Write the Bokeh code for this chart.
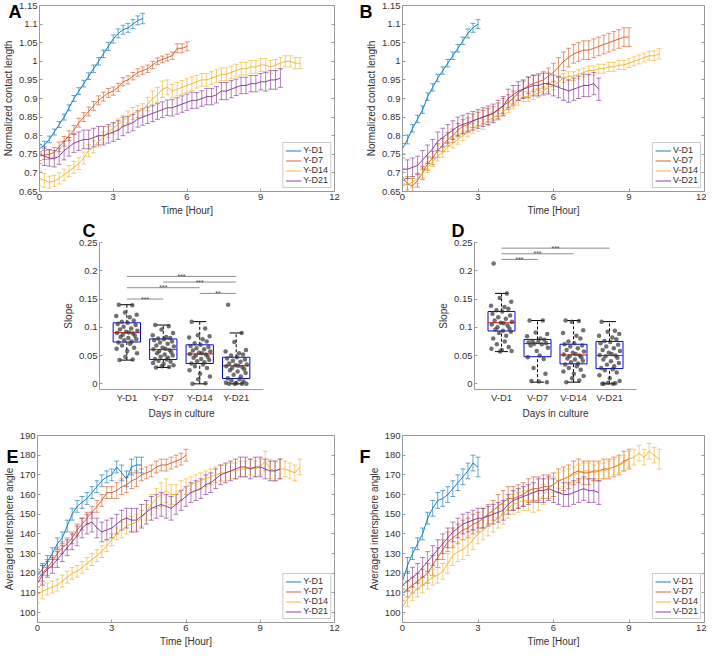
import math
import numpy as np
from bokeh.plotting import figure
from bokeh.layouts import column, row
from bokeh.models import (ColumnDataSource, Whisker, TeeHead, Legend, LegendItem,
                          FixedTicker, Range1d, LinearAxis)
from bokeh.embed import file_html
from bokeh.resources import INLINE
from bokeh.core.properties import value

# ---------------- data ----------------
STEP_H = 0.2  # sampling interval of the time series (hours)

# Panel A: normalized contact length, Y groups
A_D1 = [0.765, 0.775, 0.79, 0.81, 0.83, 0.85, 0.875, 0.9, 0.92, 0.94, 0.96, 0.98, 1.0, 1.02, 1.04, 1.06,
        1.075, 1.085, 1.09, 1.1, 1.11, 1.115]
A_D1_E = [0.012, 0.01, 0.009, 0.008, 0.008, 0.008, 0.008, 0.008, 0.009, 0.009, 0.009, 0.01, 0.01, 0.01,
          0.011, 0.011, 0.012, 0.012, 0.012, 0.012, 0.012, 0.014]
A_D7 = [0.745, 0.748, 0.75, 0.755, 0.77, 0.785, 0.8, 0.815, 0.835, 0.85, 0.865, 0.88, 0.895, 0.905, 0.915,
        0.92, 0.93, 0.945, 0.95, 0.96, 0.97, 0.975, 0.98, 0.99, 1.0, 1.005, 1.01, 1.015, 1.035, 1.035, 1.04]
A_D7_E = [0.012, 0.012, 0.013, 0.013, 0.013, 0.013, 0.013, 0.012, 0.012, 0.012, 0.012, 0.012, 0.012, 0.012,
          0.012, 0.011, 0.011, 0.011, 0.011, 0.01, 0.01, 0.01, 0.01, 0.01, 0.009, 0.009, 0.009, 0.01, 0.012,
          0.012, 0.012]
A_D14 = [0.685, 0.68, 0.675, 0.678, 0.685, 0.695, 0.705, 0.715, 0.725, 0.74,
         0.76, 0.77, 0.785, 0.795, 0.81, 0.82, 0.83, 0.84, 0.85, 0.86,
         0.865, 0.87, 0.885, 0.9, 0.91, 0.925, 0.93, 0.92, 0.925, 0.93,
         0.935, 0.94, 0.945, 0.95, 0.95, 0.955, 0.96, 0.965, 0.965, 0.97,
         0.975, 0.98, 0.98, 0.985, 0.985, 0.99, 0.99, 0.985, 0.99, 0.995,
         1.0, 1.0, 0.995, 0.995]
A_D14_E = [0.02, 0.018, 0.016, 0.015, 0.015, 0.015, 0.015, 0.016, 0.016, 0.016,
           0.016, 0.016, 0.015, 0.015, 0.015, 0.015, 0.015, 0.015, 0.016, 0.016,
           0.016, 0.016, 0.018, 0.02, 0.02, 0.022, 0.02, 0.018, 0.018, 0.018,
           0.018, 0.018, 0.017, 0.017, 0.017, 0.017, 0.017, 0.017, 0.017, 0.017,
           0.017, 0.017, 0.017, 0.017, 0.017, 0.017, 0.017, 0.017, 0.015, 0.015,
           0.015, 0.015, 0.015, 0.015]
A_D21 = [0.75, 0.745, 0.74, 0.738, 0.745, 0.76, 0.77, 0.78, 0.785, 0.79,
         0.79, 0.795, 0.8, 0.8, 0.805, 0.81, 0.815, 0.825, 0.83, 0.835,
         0.845, 0.85, 0.855, 0.86, 0.865, 0.87, 0.875, 0.875, 0.88, 0.885,
         0.89, 0.895, 0.895, 0.9, 0.905, 0.905, 0.91, 0.92, 0.92, 0.925,
         0.93, 0.935, 0.935, 0.94, 0.94, 0.945, 0.945, 0.95, 0.95, 0.955]
A_D21_E = [0.025, 0.025, 0.022, 0.022, 0.022, 0.025, 0.025, 0.025, 0.025, 0.025,
           0.025, 0.025, 0.025, 0.025, 0.025, 0.025, 0.025, 0.025, 0.022, 0.022,
           0.022, 0.022, 0.022, 0.022, 0.021, 0.021, 0.021, 0.022, 0.022, 0.022,
           0.022, 0.022, 0.021, 0.021, 0.022, 0.022, 0.022, 0.023, 0.023, 0.023,
           0.022, 0.022, 0.022, 0.022, 0.022, 0.022, 0.025, 0.025, 0.025, 0.025]

# Panel B: normalized contact length, V groups
B_D1 = [0.765, 0.79, 0.82, 0.845, 0.87, 0.905, 0.93, 0.955, 0.975, 0.995, 1.015, 1.035, 1.055, 1.075, 1.09, 1.1]
B_D1_E = [0.014, 0.012, 0.01, 0.01, 0.01, 0.01, 0.01, 0.01, 0.01, 0.01, 0.01, 0.01, 0.01, 0.012, 0.012, 0.012]
B_D7 = [0.69, 0.67, 0.665, 0.68, 0.7, 0.725, 0.74, 0.76, 0.775, 0.79,
        0.8, 0.815, 0.825, 0.83, 0.84, 0.845, 0.85, 0.855, 0.86, 0.87,
        0.88, 0.89, 0.9, 0.915, 0.925, 0.935, 0.94, 0.945, 0.95, 0.96,
        0.97, 0.985, 1.0, 1.01, 1.02, 1.025, 1.03, 1.03, 1.035, 1.04,
        1.045, 1.05, 1.055, 1.06, 1.065, 1.065]
B_D7_E = [0.02, 0.02, 0.02, 0.018, 0.018, 0.018, 0.018, 0.018, 0.018, 0.018,
          0.018, 0.018, 0.018, 0.018, 0.018, 0.018, 0.018, 0.018, 0.018, 0.018,
          0.02, 0.02, 0.02, 0.02, 0.022, 0.022, 0.022, 0.022, 0.022, 0.022,
          0.025, 0.025, 0.025, 0.025, 0.025, 0.025, 0.025, 0.025, 0.025, 0.025,
          0.025, 0.025, 0.025, 0.025, 0.025, 0.025]
B_D14 = [0.665, 0.67, 0.675, 0.685, 0.7, 0.715, 0.73, 0.745, 0.755, 0.77,
         0.78, 0.79, 0.8, 0.81, 0.82, 0.825, 0.83, 0.84, 0.85, 0.855,
         0.865, 0.875, 0.885, 0.895, 0.905, 0.905, 0.91, 0.915, 0.92, 0.93,
         0.935, 0.945, 0.955, 0.96, 0.96, 0.965, 0.97, 0.975, 0.975, 0.98,
         0.98, 0.985, 0.985, 0.99, 0.99, 0.995, 1.0, 1.005, 1.01, 1.015,
         1.015, 1.02]
B_D14_E = [0.015, 0.015, 0.014, 0.014, 0.014, 0.014, 0.013, 0.013, 0.013, 0.013,
           0.013, 0.013, 0.013, 0.013, 0.013, 0.013, 0.013, 0.013, 0.013, 0.013,
           0.013, 0.013, 0.013, 0.013, 0.013, 0.013, 0.013, 0.012, 0.012, 0.012,
           0.012, 0.012, 0.012, 0.012, 0.012, 0.012, 0.012, 0.012, 0.012, 0.012,
           0.012, 0.012, 0.012, 0.012, 0.012, 0.012, 0.012, 0.012, 0.012, 0.012,
           0.013, 0.014]
B_D21 = [0.71, 0.71, 0.715, 0.72, 0.735, 0.75, 0.765, 0.785, 0.795, 0.805,
         0.815, 0.825, 0.83, 0.835, 0.84, 0.845, 0.85, 0.855, 0.86, 0.87,
         0.88, 0.9, 0.91, 0.92, 0.925, 0.93, 0.935, 0.935, 0.94, 0.94,
         0.935, 0.93, 0.925, 0.92, 0.925, 0.93, 0.935, 0.935, 0.94, 0.925]
B_D21_E = [0.03, 0.025, 0.025, 0.025, 0.025, 0.025, 0.025, 0.025, 0.025, 0.025,
           0.025, 0.025, 0.025, 0.025, 0.025, 0.025, 0.025, 0.025, 0.025, 0.025,
           0.025, 0.025, 0.025, 0.025, 0.025, 0.028, 0.028, 0.028, 0.028, 0.028,
           0.028, 0.028, 0.03, 0.03, 0.03, 0.03, 0.03, 0.03, 0.03, 0.03]

# Panel E: averaged intersphere angle, Y groups
E_D1 = [119, 122, 126, 130, 135, 138, 144, 150, 154, 156, 158, 161, 164, 167, 169, 170, 174, 171, 168, 174,
        175, 175]
E_D1_E = [3, 3, 3, 3, 3, 3, 3, 3, 3, 3, 3, 3, 3, 3, 3, 3, 3, 4, 4, 4, 4, 4]
E_D7 = [117, 120, 123, 126, 130, 133, 135, 138, 142, 145,
        148, 151, 154, 157, 161, 161, 162, 164, 165, 167,
        168, 170, 171, 172, 174, 175, 175, 176, 177, 178, 180]
E_D7_E = [4, 4, 4, 3, 3, 3, 3, 3, 3, 3, 3, 3, 3, 3, 3, 3, 4, 4, 4, 4, 4, 3, 3, 3, 3, 3, 3, 3, 3, 3, 3]
E_D14 = [109, 111, 112, 113, 114, 116, 118, 120, 121, 123,
         125, 127, 129, 131, 134, 137, 140, 142, 144, 145,
         146, 148, 151, 155, 158, 160, 162, 160, 160, 162,
         164, 165, 166, 167, 168, 169, 170, 171, 171, 172,
         172, 173, 173, 174, 173, 174, 177, 173, 172, 173,
         173, 172, 171, 174]
E_D14_E = [4, 4, 3, 3, 3, 3, 3, 3, 3, 3,
           3, 3, 3, 3, 3, 3, 3, 4, 4, 4,
           4, 4, 4, 5, 5, 6, 6, 5, 5, 5,
           4, 4, 4, 4, 4, 4, 4, 4, 4, 4,
           4, 4, 4, 4, 4, 4, 5, 5, 5, 5,
           4, 4, 4, 4]
E_D21 = [115, 119, 122, 124, 127, 130, 133, 136, 139, 143,
         145, 146, 143, 141, 142, 143, 145, 147, 148, 147,
         147, 149, 151, 153, 154, 155, 154, 153, 155, 157,
         159, 161, 162, 163, 165, 166, 168, 170, 171, 172,
         173, 174, 174, 173, 174, 174, 173, 172, 172, 173]
E_D21_E = [5, 5, 4, 4, 4, 4, 4, 4, 5, 5,
           5, 5, 5, 5, 5, 5, 5, 5, 5, 6,
           6, 6, 6, 6, 6, 6, 6, 6, 5, 5,
           5, 5, 5, 5, 5, 5, 5, 5, 5, 5,
           5, 5, 5, 5, 5, 5, 5, 5, 5, 5]

# Panel F: averaged intersphere angle, V groups
F_D1 = [116, 124, 130, 135, 140, 148, 153, 157, 158, 160, 163, 166, 169, 172, 176, 174]
F_D1_E = [4, 4, 3, 3, 3, 3, 4, 4, 4, 4, 4, 4, 4, 4, 4, 5]
F_D7 = [110, 112, 114, 116, 118, 120, 124, 128, 132, 136,
        138, 140, 142, 143, 145, 146, 148, 150, 152, 154,
        156, 158, 158, 159, 160, 162, 163, 163, 164, 164,
        165, 167, 168, 169, 171, 172, 171, 171, 172, 172,
        173, 173, 174, 175, 177, 178]
F_D7_E = [4, 4, 4, 4, 4, 5, 5, 5, 5, 5,
          5, 5, 5, 5, 5, 5, 5, 5, 5, 6,
          6, 6, 6, 6, 6, 6, 6, 6, 6, 6,
          6, 6, 6, 6, 6, 6, 6, 6, 5, 5,
          5, 5, 5, 5, 5, 5]
F_D14 = [103, 107, 110, 112, 114, 116, 118, 119, 121, 125,
         129, 131, 132, 134, 137, 140, 142, 144, 146, 148,
         150, 153, 155, 156, 157, 157, 156, 157, 160, 163,
         165, 167, 168, 169, 170, 171, 172, 172, 171, 172,
         172, 173, 174, 175, 176, 178, 179, 181, 179, 182,
         180, 178]
F_D14_E = [4, 4, 4, 4, 4, 4, 4, 4, 4, 5,
           5, 5, 5, 5, 5, 5, 5, 5, 5, 5,
           5, 5, 5, 5, 5, 5, 5, 5, 5, 5,
           4, 4, 4, 4, 4, 4, 4, 4, 4, 4,
           4, 4, 4, 4, 4, 4, 4, 4, 4, 4,
           4, 5]
F_D21 = [114, 116, 118, 120, 123, 126, 129, 132, 135, 138,
         141, 143, 145, 146, 147, 148, 148, 149, 150, 151,
         152, 155, 157, 158, 159, 160, 161, 162, 162, 163,
         162, 161, 160, 160, 161, 162, 163, 162, 162, 161]
F_D21_E = [5, 5, 5, 5, 5, 5, 5, 5, 5, 5,
           5, 5, 5, 5, 5, 5, 5, 5, 5, 5,
           5, 5, 5, 5, 5, 5, 5, 6, 6, 6,
           6, 6, 6, 6, 6, 6, 6, 6, 6, 6]

# Panels C/D: slopes per culture day
C_CATS = ["Y-D1", "Y-D7", "Y-D14", "Y-D21"]
C_PTS = [
    [0.140, 0.139, 0.126, 0.122, 0.120, 0.118, 0.112, 0.110, 0.108, 0.106, 0.104, 0.101, 0.098, 0.096, 0.094,
     0.092, 0.091, 0.090, 0.089, 0.087, 0.085, 0.083, 0.081, 0.079, 0.077, 0.075, 0.073, 0.071, 0.068, 0.064,
     0.062, 0.058, 0.054, 0.048, 0.043, 0.042],
    [0.104, 0.102, 0.096, 0.090, 0.086, 0.083, 0.081, 0.080, 0.079, 0.077, 0.075, 0.073, 0.071, 0.068, 0.066,
     0.064, 0.062, 0.061, 0.060, 0.058, 0.056, 0.054, 0.052, 0.050, 0.048, 0.046, 0.044, 0.043, 0.041, 0.039,
     0.037, 0.035, 0.033, 0.031, 0.030, 0.029],
    [0.110, 0.098, 0.086, 0.084, 0.082, 0.079, 0.075, 0.072, 0.069, 0.067, 0.065, 0.063, 0.061, 0.059, 0.057,
     0.055, 0.054, 0.053, 0.052, 0.050, 0.048, 0.046, 0.044, 0.042, 0.040, 0.038, 0.036, 0.034, 0.031, 0.028,
     0.024, 0.018, 0.013, 0.008, 0.001, 0.000],
    [0.140, 0.090, 0.074, 0.060, 0.057, 0.054, 0.052, 0.050, 0.047, 0.045, 0.043, 0.041, 0.039, 0.036, 0.034,
     0.033, 0.032, 0.031, 0.030, 0.028, 0.026, 0.024, 0.022, 0.019, 0.016, 0.013, 0.010, 0.008, 0.006, 0.004,
     0.002, 0.001, 0.000, 0.000, 0.000, 0.000],
]
C_Q1 = [0.074, 0.043, 0.036, 0.0095]
C_MED = [0.0905, 0.0605, 0.0528, 0.032]
C_Q3 = [0.108, 0.0794, 0.069, 0.047]
C_LO = [0.042, 0.029, 0.0, 0.0]
C_HI = [0.14, 0.104, 0.11, 0.09]
C_SIG_FROM = [1, 2, 1, 3, 1]
C_SIG_TO = [4, 4, 3, 4, 2]
C_SIG_Y = [0.19, 0.18, 0.17, 0.16, 0.15]
C_SIG_TXT = ["***", "***", "***", "**", "***"]

D_CATS = ["V-D1", "V-D7", "V-D14", "V-D21"]
D_PTS = [
    [0.213, 0.160, 0.152, 0.145, 0.138, 0.136, 0.133, 0.130, 0.128, 0.124, 0.121, 0.118, 0.115, 0.112, 0.110,
     0.108, 0.107, 0.105, 0.103, 0.100, 0.098, 0.096, 0.094, 0.092, 0.090, 0.085, 0.080, 0.075, 0.070, 0.065,
     0.062, 0.060, 0.058, 0.057],
    [0.112, 0.112, 0.091, 0.088, 0.084, 0.080, 0.078, 0.076, 0.074, 0.073, 0.072, 0.071, 0.070, 0.068, 0.064,
     0.058, 0.050, 0.047, 0.044, 0.028, 0.018, 0.005, 0.004, 0.003],
    [0.112, 0.111, 0.110, 0.095, 0.090, 0.085, 0.080, 0.075, 0.072, 0.070, 0.068, 0.066, 0.063, 0.060, 0.057,
     0.055, 0.053, 0.052, 0.050, 0.049, 0.047, 0.045, 0.043, 0.041, 0.038, 0.036, 0.034, 0.031, 0.028, 0.025,
     0.022, 0.018, 0.014, 0.010, 0.006, 0.003],
    [0.110, 0.094, 0.092, 0.088, 0.085, 0.082, 0.079, 0.076, 0.074, 0.072, 0.069, 0.066, 0.063, 0.060, 0.058,
     0.055, 0.053, 0.051, 0.050, 0.049, 0.046, 0.043, 0.040, 0.037, 0.034, 0.031, 0.028, 0.026, 0.024, 0.020,
     0.015, 0.010, 0.005, 0.002, 0.001, 0.000, 0.000, 0.000],
]
D_Q1 = [0.0935, 0.048, 0.0354, 0.027]
D_MED = [0.108, 0.0713, 0.051, 0.05]
D_Q3 = [0.128, 0.0785, 0.07, 0.075]
D_LO = [0.057, 0.003, 0.003, 0.0]
D_HI = [0.16, 0.112, 0.112, 0.11]
D_SIG_FROM = [1, 1, 1]
D_SIG_TO = [4, 3, 2]
D_SIG_Y = [0.24, 0.23, 0.22]
D_SIG_TXT = ["***", "***", "***"]

X_TICKS = [0, 3, 6, 9, 12]
X_TICK_LABELS = ["0", "3", "6", "9", "12"]
A_YTICKS = [0.65, 0.7, 0.75, 0.8, 0.85, 0.9, 0.95, 1.0, 1.05, 1.1, 1.15]
A_YLABELS = ["0.65", "0.7", "0.75", "0.8", "0.85", "0.9", "0.95", "1", "1.05", "1.1", "1.15"]
E_YTICKS = [100, 110, 120, 130, 140, 150, 160, 170, 180, 190]
E_YLABELS = ["100", "110", "120", "130", "140", "150", "160", "170", "180", "190"]
S_YTICKS = [0, 0.05, 0.1, 0.15, 0.2, 0.25]
S_YLABELS = ["0", "0.05", "0.1", "0.15", "0.2", "0.25"]

# jitter offsets for the dot overlay in the box plots
JIT = [-0.22, 0.15, -0.05, 0.27, -0.29, 0.08, 0.19, -0.14, 0.02, -0.25, 0.24, -0.09, 0.12, -0.19, 0.29,
       -0.02, 0.06, -0.27, 0.17, -0.11, 0.22, -0.17, 0.04, 0.26, -0.07, 0.13, -0.23, 0.09, -0.13, 0.2,
       -0.28, 0.01, 0.28, -0.04, 0.16, -0.2, 0.1, -0.16, 0.25, -0.08]

# ---------------- style ----------------
FONT = "Liberation Sans"
AX = "#9a9a9a"
TXT = "#333333"
COLORS = ["#0072BD", "#D95319", "#EDB120", "#7E2F8E"]


def style_axis(ax):
    ax.axis_line_color = AX
    ax.major_tick_line_color = AX
    ax.major_tick_in = 3
    ax.major_tick_out = 0
    ax.minor_tick_line_color = None
    ax.major_label_text_font = FONT
    ax.major_label_text_font_size = "9.5px"
    ax.major_label_text_color = TXT
    ax.axis_label_text_font = FONT
    ax.axis_label_text_font_size = "10px"
    ax.axis_label_text_font_style = "normal"
    ax.axis_label_text_color = TXT
    ax.major_label_standoff = 2
    ax.axis_label_standoff = 2


def right_ticks(p, yticks):
    ax = LinearAxis(ticker=FixedTicker(ticks=yticks))
    ax.axis_line_color = None
    ax.major_tick_line_color = AX
    ax.major_tick_in = 3
    ax.major_tick_out = 0
    ax.minor_tick_line_color = None
    ax.major_label_text_font_size = "0px"
    ax.major_label_text_alpha = 0
    ax.major_label_standoff = 0
    p.add_layout(ax, "right")


def title_letter(p, letter, offset, standoff, valign):
    # panel letter, drawn as the figure title shifted into the left margin
    p.title.text = letter
    p.title.align = "left"
    p.title.offset = offset
    try:
        p.title.standoff = standoff
    except Exception:
        p.title.standoff = 0
    p.title.vertical_align = valign
    p.title.text_font = FONT
    p.title.text_font_size = "18px"
    p.title.text_font_style = "bold"
    p.title.text_color = "black"


def line_panel(series, names, ylim, yticks, ylabels, ylabel, w, h, ml, mr, mt, mb):
    p = figure(width=w, height=h, output_backend="svg", toolbar_location=None,
               x_range=Range1d(0, 12), y_range=Range1d(*ylim),
               min_border_left=ml, min_border_right=mr, min_border_top=mt, min_border_bottom=mb)
    p.grid.visible = False
    p.outline_line_color = AX
    p.border_fill_color = "white"
    p.xaxis.ticker = FixedTicker(ticks=X_TICKS)
    p.xaxis.major_label_overrides = dict(zip(X_TICKS, X_TICK_LABELS))
    p.yaxis.ticker = FixedTicker(ticks=yticks)
    p.yaxis.major_label_overrides = dict(zip(yticks, ylabels))
    p.xaxis.axis_label = "Time [Hour]"
    p.yaxis.axis_label = ylabel
    style_axis(p.xaxis[0])
    style_axis(p.yaxis[0])
    right_ticks(p, yticks)
    items = []
    for (vals, errs), name, color in zip(series, names, COLORS):
        n = min(len(vals), len(errs))
        v = np.array(vals[:n], dtype=float)
        e = np.array(errs[:n], dtype=float)
        t = np.arange(n) * STEP_H
        src = ColumnDataSource(dict(t=t, y=v, lo=v - e, hi=v + e))
        wh = Whisker(source=src, base="t", upper="hi", lower="lo", line_color=color,
                     line_alpha=0.6, line_width=1,
                     upper_head=TeeHead(size=5, line_color=color, line_alpha=0.6, line_width=1),
                     lower_head=TeeHead(size=5, line_color=color, line_alpha=0.6, line_width=1))
        p.add_layout(wh)
        r = p.line("t", "y", source=src, line_color=color, line_width=1, line_alpha=0.9)
        m = p.scatter(x=[], y=[], marker="dash", angle=math.pi / 2, size=9, line_color=color)
        items.append(LegendItem(label=name, renderers=[r, m]))
    leg = Legend(items=items, location="bottom_right", margin=3, padding=2, spacing=0,
                 glyph_width=16, glyph_height=9, label_height=9, label_standoff=2,
                 label_text_font=FONT, label_text_font_size="9px", label_text_color=TXT,
                 border_line_color=AX, background_fill_color="white", background_fill_alpha=1)
    p.add_layout(leg)
    return p


def box_panel(cats, pts, q1, med, q3, lo, hi, sfrom, sto, sy, stxt, w, h, ml, mr, mt, mb):
    p = figure(width=w, height=h, output_backend="svg", toolbar_location=None,
               x_range=Range1d(0.25, 4.75), y_range=Range1d(-0.01, 0.25),
               min_border_left=ml, min_border_right=mr, min_border_top=mt, min_border_bottom=mb)
    p.grid.visible = False
    p.outline_line_color = None
    p.border_fill_color = "white"
    xs = list(range(1, len(cats) + 1))
    p.xaxis.ticker = FixedTicker(ticks=xs)
    p.xaxis.major_label_overrides = dict(zip(xs, cats))
    p.yaxis.ticker = FixedTicker(ticks=S_YTICKS)
    p.yaxis.major_label_overrides = dict(zip(S_YTICKS, S_YLABELS))
    p.xaxis.axis_label = "Days in culture"
    p.yaxis.axis_label = "Slope"
    style_axis(p.xaxis[0])
    style_axis(p.yaxis[0])
    p.xaxis.major_tick_in = 0
    # significance bars
    p.segment(x0=sfrom, y0=sy, x1=sto, y1=sy, line_color="#8c8c8c", line_width=1)
    p.text(x=[(a + b) / 2 for a, b in zip(sfrom, sto)], y=sy, text=stxt,
           text_font=value(FONT), text_font_size="7px", text_align="center",
           text_baseline="middle", text_color="#444444")
    bw = 0.375
    cw = 0.18
    p.segment(x0=xs, y0=q3, x1=xs, y1=hi, line_color="black", line_width=1, line_dash="3 2")
    p.segment(x0=xs, y0=lo, x1=xs, y1=q1, line_color="black", line_width=1, line_dash="3 2")
    p.segment(x0=[x - cw for x in xs], y0=hi, x1=[x + cw for x in xs], y1=hi, line_color="black", line_width=1)
    p.segment(x0=[x - cw for x in xs], y0=lo, x1=[x + cw for x in xs], y1=lo, line_color="black", line_width=1)
    p.quad(left=[x - bw for x in xs], right=[x + bw for x in xs], bottom=q1, top=q3,
           fill_alpha=0, line_color="#0000FF", line_width=1)
    p.segment(x0=[x - bw for x in xs], y0=med, x1=[x + bw for x in xs], y1=med, line_color="#FF0000", line_width=1)
    px, py = [], []
    for i, g in enumerate(pts):
        for k, val in enumerate(g):
            px.append(xs[i] + JIT[k % len(JIT)])
            py.append(val)
    p.scatter(px, py, size=4.5, fill_color="#333333", fill_alpha=0.7, line_color=None)
    return p


# ---------------- layout ----------------
W = 353
H1, H2, H3 = 218, 203, 228

pA = line_panel([(A_D1, A_D1_E), (A_D7, A_D7_E), (A_D14, A_D14_E), (A_D21, A_D21_E)],
                ["Y-D1", "Y-D7", "Y-D14", "Y-D21"], (0.65, 1.15), A_YTICKS, A_YLABELS,
                "Normalized contact length", W, H1, 31, 19, 5, 25)
title_letter(pA, "A", -31, -32, "bottom")
pB = line_panel([(B_D1, B_D1_E), (B_D7, B_D7_E), (B_D14, B_D14_E), (B_D21, B_D21_E)],
                ["V-D1", "V-D7", "V-D14", "V-D21"], (0.65, 1.15), A_YTICKS, A_YLABELS,
                "Normalized contact length", W, H1, 49, 2, 5, 25)
title_letter(pB, "B", -43, -32, "bottom")
pC = box_panel(C_CATS, C_PTS, C_Q1, C_MED, C_Q3, C_LO, C_HI, C_SIG_FROM, C_SIG_TO, C_SIG_Y, C_SIG_TXT,
               W, H2, 99, 90, 24, 26)
title_letter(pC, "C", -17, 0, "top")
pD = box_panel(D_CATS, D_PTS, D_Q1, D_MED, D_Q3, D_LO, D_HI, D_SIG_FROM, D_SIG_TO, D_SIG_Y, D_SIG_TXT,
               W, H2, 121, 70, 24, 26)
title_letter(pD, "D", -23, 0, "top")
pE = line_panel([(E_D1, E_D1_E), (E_D7, E_D7_E), (E_D14, E_D14_E), (E_D21, E_D21_E)],
                ["Y-D1", "Y-D7", "Y-D14", "Y-D21"], (95, 190), E_YTICKS, E_YLABELS,
                "Averaged intersphere angle", W, H3, 31, 19, 14, 25)
title_letter(pE, "E", -31, -62, "bottom")
pF = line_panel([(F_D1, F_D1_E), (F_D7, F_D7_E), (F_D14, F_D14_E), (F_D21, F_D21_E)],
                ["V-D1", "V-D7", "V-D14", "V-D21"], (95, 190), E_YTICKS, E_YLABELS,
                "Averaged intersphere angle", W, H3, 49, 2, 14, 25)
title_letter(pF, "F", -43, -62, "bottom")

layout = column(row(pA, pB), row(pC, pD), row(pE, pF))

with open("out.html", "w") as f:
    f.write(file_html(layout, INLINE))
